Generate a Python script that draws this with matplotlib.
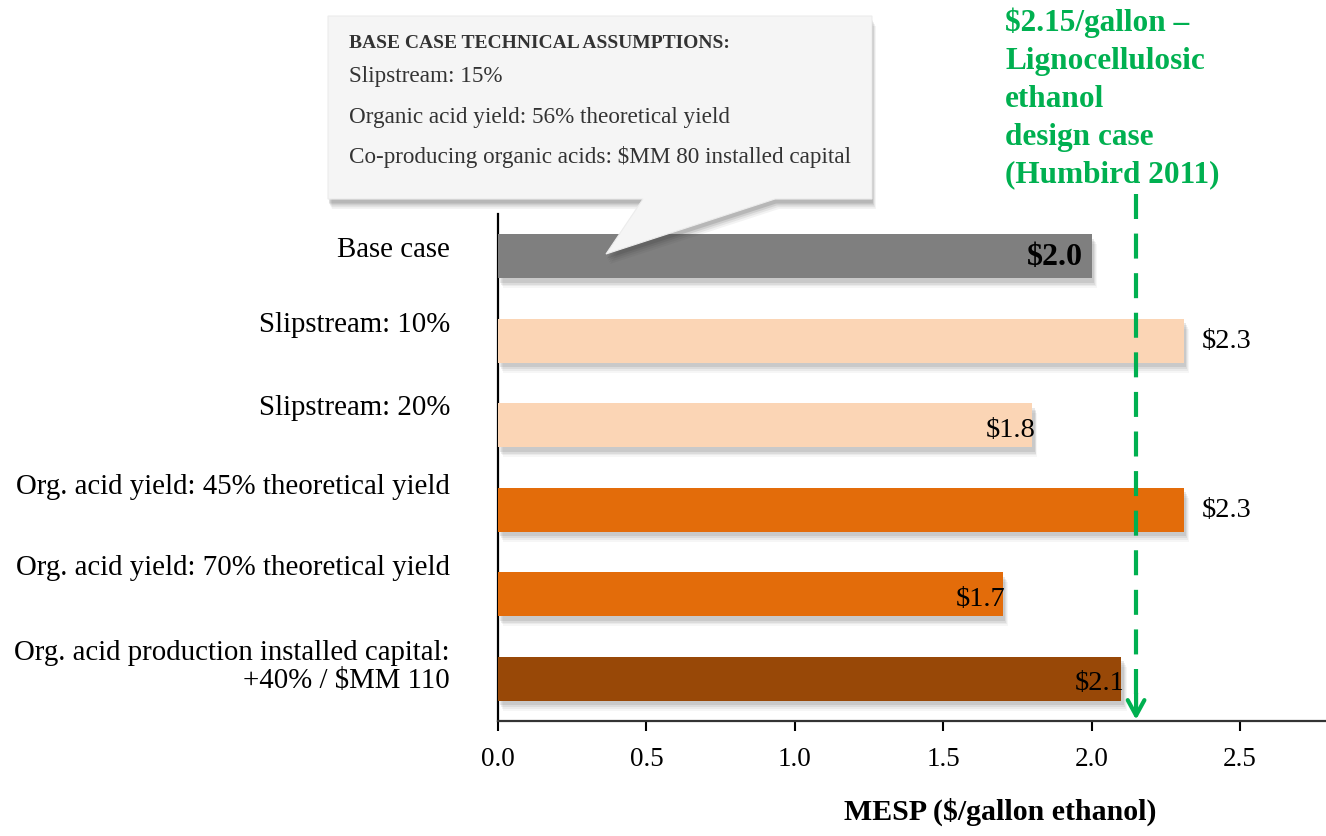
import matplotlib
matplotlib.use("Agg")
import matplotlib.pyplot as plt
import matplotlib.patheffects as pe
from matplotlib.patches import Polygon
from matplotlib.transforms import blended_transform_factory

plt.rcParams["font.family"] = ["Liberation Serif", "DejaVu Serif"]

# data
categories = [
    "Base case",
    "Slipstream: 10%",
    "Slipstream: 20%",
    "Org. acid yield: 45% theoretical yield",
    "Org. acid yield: 70% theoretical yield",
    "Org. acid production installed capital:\n+40% / $MM 110",
]
mesp = [2.00, 2.31, 1.80, 2.31, 1.70, 2.10]
value_labels = ["$2.0", "$2.3", "$1.8", "$2.3", "$1.7", "$2.1"]
bar_colors = ["#7f7f7f", "#fbd5b5", "#fbd5b5", "#e36c0a", "#e36c0a", "#984807"]
xticks = [0.0, 0.5, 1.0, 1.5, 2.0, 2.5]
design_case = 2.15
assumptions = [
    "Slipstream: 15%",
    "Organic acid yield: 56% theoretical yield",
    "Co-producing organic acids: $MM 80 installed capital",
]

GREEN = "#00b050"
W, H = 1326, 837

fig = plt.figure(figsize=(W / 100, H / 100), dpi=100)
fig.patch.set_facecolor("white")
ax = fig.add_axes([498 / W, 1 - 722 / H, 1 - 498 / W, (722 - 215) / H])

# soft drop shadow: a few stacked faint shadows
def soft_shadow(dx, dy, col="#666666"):
    effects = []
    for k, a in ((4, 0.06), (3, 0.08), (2, 0.11), (1, 0.15)):
        effects.append(pe.SimplePatchShadow(offset=(dx + k * 0.7, dy - k * 1.3),
                                            shadow_rgbFace=col, alpha=a))
    effects.append(pe.Normal())
    return effects

ypos = list(range(len(categories)))
bars = ax.barh(ypos, mesp, height=0.52, color=bar_colors, zorder=3)
for b in bars:
    b.set_path_effects(soft_shadow(1, -2))

ax.set_xlim(0, 2.79)
ax.set_ylim(len(categories) - 0.5, -0.5)
ax.set_xticks(xticks)
ax.set_xticklabels([f"{t:.1f}" for t in xticks], fontsize=19.5)
ax.tick_params(axis="x", length=7, width=1.5, pad=11, direction="out")
ax.set_yticks([])
for s in ("top", "right"):
    ax.spines[s].set_visible(False)
ax.spines["left"].set_linewidth(1.6)
ax.spines["bottom"].set_linewidth(1.6)
ax.spines["bottom"].set_color("#333333")

ax.set_xlabel("MESP ($/gallon ethanol)", fontsize=21.5, fontweight="bold")
ax.xaxis.set_label_coords(0.606, -0.15)

# category labels (sit a bit above the bar centre)
lab_tr = blended_transform_factory(ax.transAxes, ax.transData)
label_dy = [0.08, 0.2, 0.22, 0.28, 0.32, 0.15]
for i, (c, dy) in enumerate(zip(categories, label_dy)):
    ax.text(-48 / 828, i - dy, c, transform=lab_tr, ha="right", va="center",
            multialignment="right", fontsize=20.8, linespacing=1.1)

# value labels
for i, (v, t) in enumerate(zip(mesp, value_labels)):
    if i == 0:
        ax.text(v - 0.03, i, t, ha="right", va="center", fontsize=23,
                fontweight="bold", zorder=5)
    elif v > 2.2:
        ax.text(v + 0.06, i, t, ha="left", va="center", fontsize=20.5, zorder=5)
    else:
        ax.text(v + 0.01, i + 0.05, t, ha="right", va="center", fontsize=20.5, zorder=5)

# design case reference line with arrow
ref_tr = blended_transform_factory(ax.transData, ax.transAxes)
ax.plot([design_case, design_case], [1.04, 0.03], transform=ref_tr, color=GREEN,
        lw=3, dashes=(6, 3.5), clip_on=False, zorder=4)
ax.annotate("", xy=(design_case, -0.003), xytext=(design_case, 0.06),
            xycoords=ref_tr, textcoords=ref_tr,
            arrowprops=dict(arrowstyle="->,head_width=0.6,head_length=1.1",
                            color=GREEN, lw=3), zorder=4)
fig.text(1005 / W, 1 - 8 / H,
         "$2.15/gallon \u2013\nLignocellulosic\nethanol\ndesign case\n(Humbird 2011)",
         color=GREEN, fontsize=22.5, fontweight="bold", ha="left", va="top",
         linespacing=1.4)

# callout box with pointer to the base case bar
pts = [(328, 17), (872, 17), (872, 200), (775, 200), (606, 255), (643, 200), (328, 200)]
poly = Polygon([(x / W, 1 - y / H) for x, y in pts], closed=True,
               transform=fig.transFigure, facecolor="#f5f5f5", edgecolor="#ececec",
               lw=0.8, zorder=10)
poly.set_path_effects(soft_shadow(0, -2, "#333333"))
fig.add_artist(poly)
fig.text(349 / W, 1 - 43 / H, "BASE CASE TECHNICAL ASSUMPTIONS:", fontsize=14,
         fontweight="bold", color="#333333", ha="left", va="center", zorder=11)
for k, line in enumerate(assumptions):
    fig.text(349 / W, 1 - (77 + 40 * k) / H, line, fontsize=16.7, color="#333333",
             ha="left", va="center", zorder=11)

fig.savefig("out.png", dpi=100, facecolor="white")
